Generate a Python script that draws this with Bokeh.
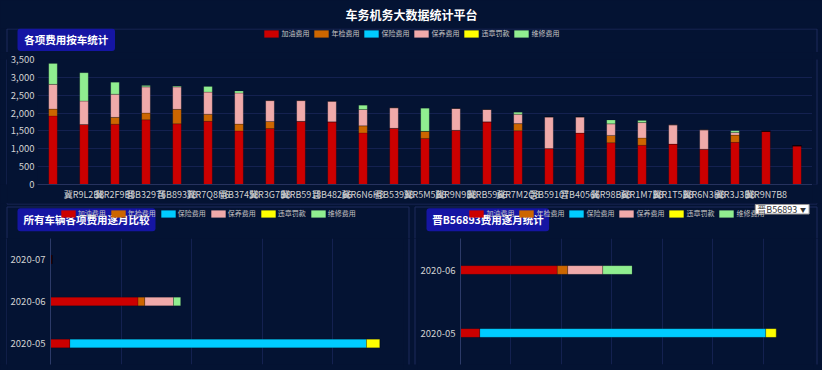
from bokeh.plotting import figure
from bokeh.layouts import column, row
from bokeh.models import (ColumnDataSource, Range1d, FactorRange, Label, BoxAnnotation,
                          Legend, LegendItem, NumeralTickFormatter, FixedTicker)
from bokeh.core.properties import value
from bokeh.embed import file_html
from bokeh.resources import INLINE

# ---------------- data ----------------
main_title = "车务机务大数据统计平台"
title_by_vehicle = "各项费用按车统计"
title_by_month = "所有车辆各项费用逐月比较"
selected_vehicle = "晋B56893"
title_selected = selected_vehicle + "费用逐月统计"

cost_types = ["加油费用", "年检费用", "保险费用", "保养费用", "违章罚款", "维修费用"]
cost_keys = ["fuel", "inspection", "insurance", "maintenance", "fines", "repair"]

vehicles = ["晋B56893", "冀R9L2B8", "冀R2F9B8", "晋B32976", "晋B89378", "冀R7Q8N6", "晋B37458",
            "冀R3G7B8", "冀RB5918", "晋B48266", "冀R6N6H8", "晋B53938", "冀R5M5B8", "冀R9N9B8",
            "冀RB5966", "冀R7M2Q8", "晋B59107", "晋B40566", "冀R98B68", "冀R1M7B8", "冀R1T5B8",
            "冀R6N3H8", "冀R3J3B8", "冀R9N7B8", "冀R2K6B8"]
x_tick_labels = ["", "冀R9L2B8", "冀R2F9B8", "晋B32976", "晋B89378", "冀R7Q8N6", "晋B37458",
                 "冀R3G7B8", "冀RB5918", "晋B48266", "冀R6N6H8", "晋B53938", "冀R5M5B8", "冀R9N9B8",
                 "冀RB5966", "冀R7M2Q8", "晋B59107", "晋B40566", "冀R98B68", "冀R1M7B8", "冀R1T5B8",
                 "冀R6N3H8", "冀R3J3B8", "冀R9N7B8", ""]
fuel = [1920, 1680, 1690, 1810, 1700, 1770, 1500, 1565, 1770, 1755, 1445, 1575, 1290,
        1520, 1755, 1505, 1005, 1445, 1170, 1100, 1135, 990, 1180, 1490, 1085]
inspection = [195, 0, 190, 195, 405, 200, 195, 200, 0, 0, 200, 0, 200,
              0, 0, 200, 0, 0, 205, 205, 0, 0, 205, 0, 0]
insurance = [0, 0, 0, 0, 0, 0, 0, 0, 0, 0, 0, 0, 0,
             0, 0, 0, 0, 0, 0, 0, 0, 0, 0, 0, 0]
maintenance = [690, 660, 650, 730, 630, 620, 870, 585, 580, 575, 455, 575, 0,
               610, 345, 265, 885, 445, 325, 430, 535, 540, 70, 0, 0]
fines = [0, 0, 0, 0, 0, 0, 0, 0, 0, 0, 0, 0, 0,
         0, 0, 0, 0, 0, 0, 0, 0, 0, 0, 0, 0]
repair = [585, 790, 330, 35, 20, 155, 50, 0, 0, 0, 120, 0, 645,
          0, 0, 50, 0, 0, 105, 60, 0, 0, 50, 0, 0]
y_ticks_top = [0, 500, 1000, 1500, 2000, 2500, 3000, 3500]

months_all = ["2020-05", "2020-06", "2020-07"]
all_fuel = [2760, 12400, 180]
all_inspection = [0, 970, 0]
all_insurance = [42000, 0, 0]
all_maintenance = [0, 4050, 0]
all_fines = [1890, 0, 0]
all_repair = [0, 1010, 0]
x_grid_all = [0, 10000, 20000, 30000, 40000, 50000]

months_one = ["2020-05", "2020-06"]
one_fuel = [770, 3840]
one_inspection = [0, 415]
one_insurance = [11340, 0]
one_maintenance = [0, 1390]
one_fines = [415, 0]
one_repair = [0, 1160]
x_grid_one = [0, 2000, 4000, 6000, 8000, 10000, 12000, 14000]

# ---------------- styles / layout (page pixels) ----------------
colors = ["#cc0000", "#cc6600", "#00ccff", "#f0aaaa", "#ffff00", "#90ee90"]
BG = "#041333"
PANEL_LINE = "#1c2a5c"
GRID = "#142150"
HEAD = "#1515a3"
TXT = "#d2d2d2"
FONT = "Noto Sans CJK SC"
W = 822

# panel outlines (left, top, right, bottom) in page pixels
PANELS = [(6.5, 28.5, 816.5, 203.5), (6.5, 206.5, 408.5, 400), (414.5, 206.5, 816.5, 400)]


def pix_fig(w, h, ox, oy):
    """A decoration strip whose frame is its whole canvas, in page-pixel units."""
    p = figure(width=w, height=h, x_range=Range1d(0, w), y_range=Range1d(0, h),
               min_border_left=0, min_border_right=0, min_border_top=0, min_border_bottom=0,
               toolbar_location=None, output_backend="svg",
               background_fill_color=BG, border_fill_color=BG, outline_line_color=None,
               x_axis_location=None, y_axis_location=None)
    p.xgrid.visible = False
    p.ygrid.visible = False
    p._ox, p._oy, p._h = ox, oy, h
    for (l, t, r, b) in PANELS:
        pbox(p, l, t, r, b, fill_color=None, line_color=PANEL_LINE, line_alpha=1, line_width=1)
    return p


def pbox(p, l, t, r, b, **kw):
    p.add_layout(BoxAnnotation(left=l - p._ox, right=r - p._ox,
                               top=p._h - (t - p._oy), bottom=p._h - (b - p._oy), **kw))


def plabel(p, x, y, text, size, color="white", bold=False, align="center"):
    p.add_layout(Label(x=x - p._ox, y=p._h - (y - p._oy), text=text,
                       text_font=FONT, text_font_size=size, text_color=color,
                       text_font_style="bold" if bold else "normal",
                       text_align=align, text_baseline="middle"))


def legend_keys(p):
    # zero-size stand-ins that only carry the series colours for the legend swatches
    return [p.vbar(x=[0], top=[0], width=0, fill_color=c, line_color=None) for c in colors]


def plegend(p, renderers, swatch_left, y_center):
    gh = 9
    lg = Legend(items=[LegendItem(label=value(t), renderers=[r]) for t, r in zip(cost_types, renderers)],
                orientation="horizontal",
                location=(swatch_left - 1.8 - p._ox, p._h - (y_center - p._oy) - gh / 2),
                glyph_width=18, glyph_height=gh, label_height=gh, label_width=0,
                label_standoff=1, spacing=3, padding=0, margin=0,
                label_text_font=FONT, label_text_font_size="7px", label_text_color="#c4c4c4",
                background_fill_alpha=0, border_line_color=None)
    p.add_layout(lg)


def chart_fig(w, h, x_range, y_range, left, right, top, bottom, **kw):
    return figure(width=w, height=h, x_range=x_range, y_range=y_range,
                  output_backend="svg", toolbar_location=None,
                  min_border_left=left, min_border_right=right,
                  min_border_top=top, min_border_bottom=bottom,
                  background_fill_color=BG, border_fill_color=BG, outline_line_color=None, **kw)


HEADBOX = dict(fill_color=HEAD, fill_alpha=1, line_color=None, border_radius=3)

# ---------------- title strip ----------------
T = pix_fig(W, 28, 0, 0)
plabel(T, 411, 14.4, main_title, "12px", bold=True)

# ---------------- top panel header strip ----------------
U = pix_fig(W, 24, 0, 28)
pbox(U, 17, 28.1, 114.5, 50.5, **HEADBOX)
plegend(U, legend_keys(U), 264.2, 33.9)
plabel(U, 65.7, 39.3, title_by_vehicle, "10.5px", bold=True)

# ---------------- top chart ----------------
srcA = ColumnDataSource(dict(x=list(range(len(vehicles))), vehicle=vehicles, fuel=fuel,
                             inspection=inspection, insurance=insurance, maintenance=maintenance,
                             fines=fines, repair=repair))
pA = chart_fig(805, 151, Range1d(-0.5, len(vehicles) - 0.5), Range1d(y_ticks_top[0], y_ticks_top[-1]),
               29, 0, 7, 15)
pA.vbar_stack(cost_keys, x="x", width=0.275, color=colors, source=srcA,
              line_color="#000000", line_alpha=0.2, line_width=0.8)
pA.yaxis.ticker = FixedTicker(ticks=y_ticks_top)
pA.yaxis.formatter = NumeralTickFormatter(format="0,0")
pA.yaxis.axis_line_color = None
pA.yaxis.major_tick_line_color = None
pA.yaxis.major_tick_out = 0
pA.yaxis.minor_tick_line_color = None
pA.yaxis.major_label_text_font = FONT
pA.yaxis.major_label_text_font_size = "9.5px"
pA.yaxis.major_label_text_color = TXT
pA.yaxis.major_label_standoff = 3
pA.ygrid.grid_line_color = GRID
pA.xgrid.grid_line_color = None
pA.xaxis.ticker = FixedTicker(ticks=[i for i, t in enumerate(x_tick_labels) if t])
pA.xaxis.major_label_overrides = {i: t for i, t in enumerate(x_tick_labels) if t}
pA.xaxis.axis_line_color = "#26325e"
pA.xaxis.major_tick_line_color = None
pA.xaxis.major_tick_out = 0
pA.xaxis.minor_tick_line_color = None
pA.xaxis.major_label_text_font = FONT
pA.xaxis.major_label_text_font_size = "9px"
pA.xaxis.major_label_text_color = TXT
pA.xaxis.major_label_standoff = 3

sideLA = pix_fig(7, 151, 0, 52)
sideRA = pix_fig(10, 151, 812, 52)

# ---------------- bottom header strip ----------------
S = pix_fig(W, 35, 0, 203)
keysS = legend_keys(S)
pbox(S, 17, 207.7, 155, 230.7, **HEADBOX)
pbox(S, 426, 207.7, 548.6, 230.7, **HEADBOX)
plegend(S, keysS, 60.5, 213.8)
plegend(S, keysS, 469.2, 213.8)
plabel(S, 86, 219.2, title_by_month, "10.5px", bold=True)
plabel(S, 487.5, 219.2, title_selected, "10.5px", bold=True)
pbox(S, 754.8, 204, 808.6, 213.5, fill_color="white", fill_alpha=1, line_color="#999999", line_alpha=1, line_width=1)
plabel(S, 756.8, 208.9, selected_vehicle, "9px", color="#333333", align="left")
plabel(S, 802.4, 208.9, "▼", "6px", color="#333333")


# ---------------- bottom charts ----------------
def month_chart(width, months, grid_ticks, src, bar_h):
    p = chart_fig(width, 132, Range1d(grid_ticks[0], grid_ticks[-1]), FactorRange(factors=months),
                  41, 0, 0, 6, x_axis_location=None)
    p.hbar_stack(cost_keys, y="month", height=bar_h, color=colors, source=src,
                 line_color="#000000", line_alpha=0.2, line_width=0.8)
    p.xgrid.ticker = FixedTicker(ticks=grid_ticks)
    p.xgrid.grid_line_color = GRID
    p.ygrid.grid_line_color = None
    p.yaxis.axis_line_color = "#2c3a68"
    p.yaxis.major_tick_line_color = None
    p.yaxis.major_tick_out = 0
    p.yaxis.minor_tick_line_color = None
    p.yaxis.major_label_text_font = FONT
    p.yaxis.major_label_text_font_size = "9.5px"
    p.yaxis.major_label_text_color = TXT
    p.yaxis.major_label_standoff = 5
    return p


srcB = ColumnDataSource(dict(month=months_all, fuel=all_fuel, inspection=all_inspection,
                             insurance=all_insurance, maintenance=all_maintenance,
                             fines=all_fines, repair=all_repair))
pB = month_chart(396, months_all, x_grid_all, srcB, 0.2)

srcC = ColumnDataSource(dict(month=months_one, fuel=one_fuel, inspection=one_inspection,
                             insurance=one_insurance, maintenance=one_maintenance,
                             fines=one_fines, repair=one_repair))
pC = month_chart(396, months_one, x_grid_one, srcC, 0.137)

sideLB = pix_fig(7, 132, 0, 238)
midB = pix_fig(14, 132, 403, 238)
sideRC = pix_fig(9, 132, 813, 238)

bg = {"background-color": BG}
layout = column(T, U,
                row(sideLA, pA, sideRA, styles=bg),
                S,
                row(sideLB, pB, midB, pC, sideRC, styles=bg),
                styles=bg)
open("out.html", "w").write(file_html(layout, INLINE))
